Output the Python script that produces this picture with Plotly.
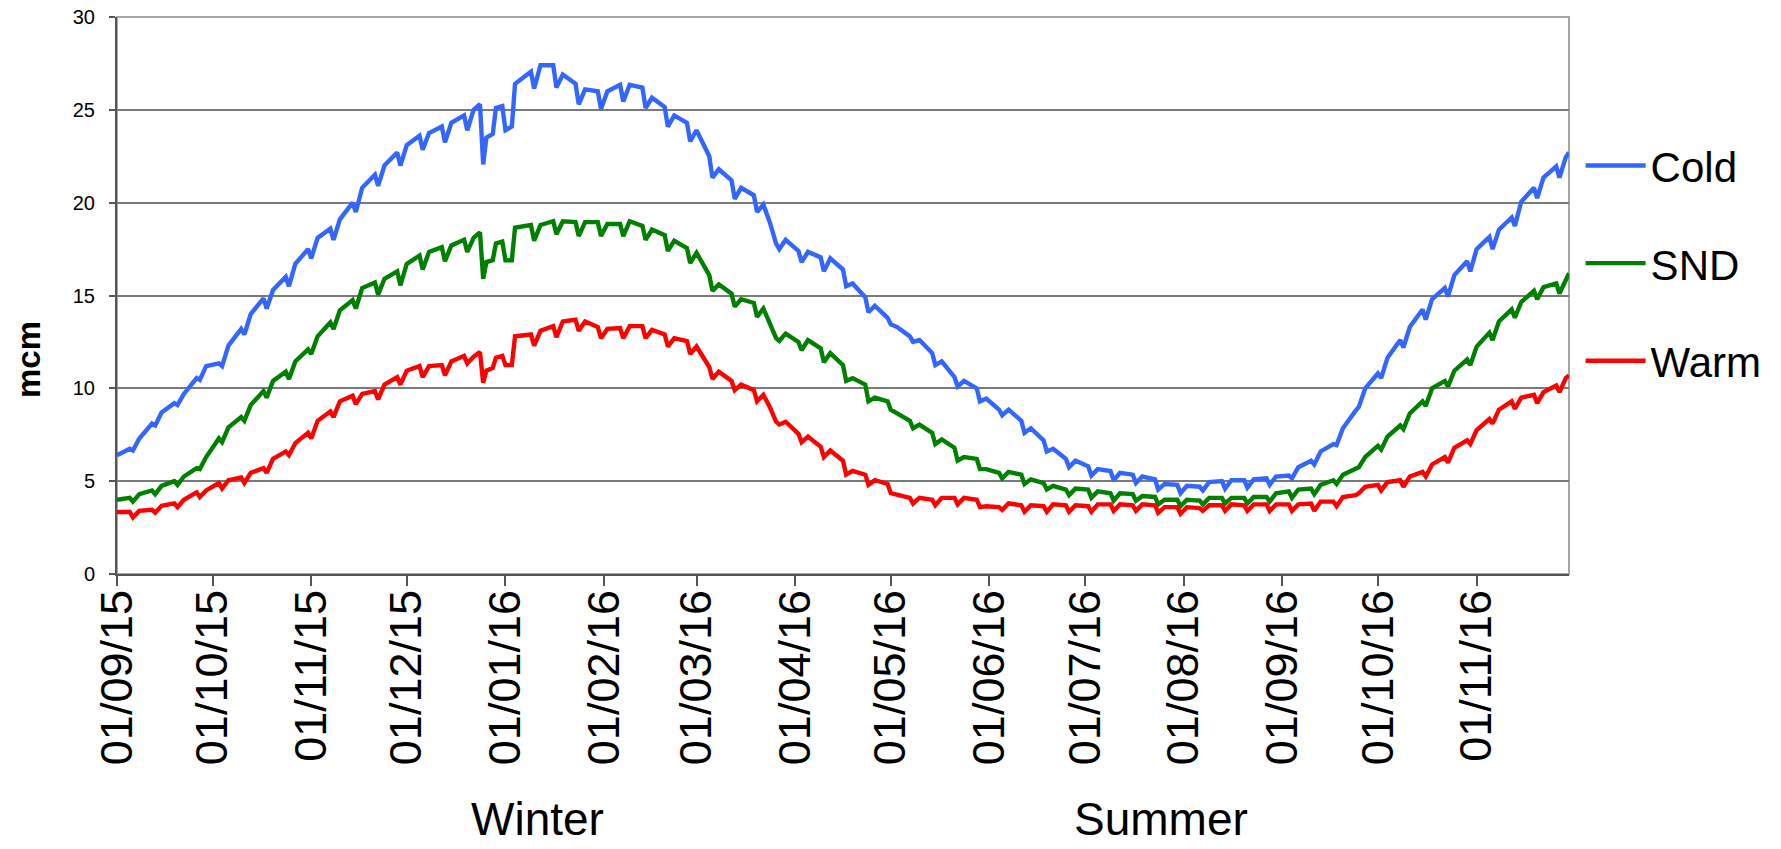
import plotly.graph_objects as go

# ---- data ----
dates = [
    "2015-09-01",
    "2015-09-05", "2015-09-06", "2015-09-08",
    "2015-09-12", "2015-09-13", "2015-09-15",
    "2015-09-19", "2015-09-20", "2015-09-22",
    "2015-09-26", "2015-09-27", "2015-09-29",
    "2015-10-03", "2015-10-04", "2015-10-06",
    "2015-10-10", "2015-10-11", "2015-10-13",
    "2015-10-17", "2015-10-18", "2015-10-20",
    "2015-10-24", "2015-10-25", "2015-10-27",
    "2015-10-31", "2015-11-01", "2015-11-03",
    "2015-11-07", "2015-11-08", "2015-11-10",
    "2015-11-14", "2015-11-15", "2015-11-17",
    "2015-11-21", "2015-11-22", "2015-11-24",
    "2015-11-28", "2015-11-29", "2015-12-01",
    "2015-12-05", "2015-12-06", "2015-12-08",
    "2015-12-12", "2015-12-13", "2015-12-15",
    "2015-12-19", "2015-12-20", "2015-12-22",
    "2015-12-24", "2015-12-25", "2015-12-26", "2015-12-28", "2015-12-29",
    "2015-12-31", "2016-01-01", "2016-01-03", "2016-01-04",
    "2016-01-09", "2016-01-10", "2016-01-12",
    "2016-01-16", "2016-01-17", "2016-01-19",
    "2016-01-23", "2016-01-24", "2016-01-26",
    "2016-01-30", "2016-01-31", "2016-02-02",
    "2016-02-06", "2016-02-07", "2016-02-09",
    "2016-02-13", "2016-02-14", "2016-02-16",
    "2016-02-20", "2016-02-21", "2016-02-23",
    "2016-02-27", "2016-02-28", "2016-03-01",
    "2016-03-05", "2016-03-06", "2016-03-08",
    "2016-03-12", "2016-03-13", "2016-03-15",
    "2016-03-19", "2016-03-20", "2016-03-22",
    "2016-03-24", "2016-03-26", "2016-03-27", "2016-03-29",
    "2016-04-02", "2016-04-03", "2016-04-05",
    "2016-04-09", "2016-04-10", "2016-04-12",
    "2016-04-16", "2016-04-17", "2016-04-19",
    "2016-04-23", "2016-04-24", "2016-04-26",
    "2016-04-30", "2016-05-01", "2016-05-03",
    "2016-05-07", "2016-05-08", "2016-05-10",
    "2016-05-14", "2016-05-15", "2016-05-17",
    "2016-05-21", "2016-05-22", "2016-05-24",
    "2016-05-28", "2016-05-29", "2016-05-31",
    "2016-06-04", "2016-06-05", "2016-06-07",
    "2016-06-11", "2016-06-12", "2016-06-14",
    "2016-06-18", "2016-06-19", "2016-06-21",
    "2016-06-25", "2016-06-26", "2016-06-28",
    "2016-07-02", "2016-07-03", "2016-07-05",
    "2016-07-09", "2016-07-10", "2016-07-12",
    "2016-07-16", "2016-07-17", "2016-07-19",
    "2016-07-23", "2016-07-24", "2016-07-26",
    "2016-07-30", "2016-07-31", "2016-08-02",
    "2016-08-06", "2016-08-07", "2016-08-09",
    "2016-08-13", "2016-08-14", "2016-08-16",
    "2016-08-20", "2016-08-21", "2016-08-23",
    "2016-08-27", "2016-08-28", "2016-08-30",
    "2016-09-03", "2016-09-04", "2016-09-06",
    "2016-09-10", "2016-09-11", "2016-09-13",
    "2016-09-17", "2016-09-18", "2016-09-20",
    "2016-09-24", "2016-09-25", "2016-09-27",
    "2016-10-01", "2016-10-02", "2016-10-04",
    "2016-10-08", "2016-10-09", "2016-10-11",
    "2016-10-15", "2016-10-16", "2016-10-18",
    "2016-10-22", "2016-10-23", "2016-10-25",
    "2016-10-29", "2016-10-30", "2016-11-01",
    "2016-11-05", "2016-11-06", "2016-11-08",
    "2016-11-12", "2016-11-13", "2016-11-15",
    "2016-11-19", "2016-11-20", "2016-11-22",
    "2016-11-26", "2016-11-27", "2016-11-29",
    "2016-11-30",
]

cold = [
    6.4,
    6.75, 6.65, 7.3,
    8.1, 8.0, 8.7,
    9.2, 9.1, 9.7,
    10.55, 10.45, 11.2,
    11.35, 11.2, 12.3,
    13.2, 12.9, 14.0,
    14.85, 14.3, 15.3,
    16.0, 15.5, 16.7,
    17.5, 17.0, 18.1,
    18.6, 18.0, 19.1,
    20.0, 19.5, 20.8,
    21.5, 20.9, 22.0,
    22.7, 22.0, 23.1,
    23.6, 22.85, 23.75,
    24.1, 23.25, 24.3,
    24.7, 23.9, 25.0,
    25.3, 22.06, 23.5, 23.7, 25.1,
    25.2, 23.9, 24.1, 26.4,
    27.05, 26.15, 27.4,
    27.4, 26.2, 26.9,
    26.4, 25.3, 26.1,
    26.0, 25.05, 26.0,
    26.35, 25.45, 26.35,
    26.2, 25.1, 25.65,
    25.15, 24.1, 24.7,
    24.3, 23.3, 23.9,
    22.5, 21.35, 21.8,
    21.2, 20.2, 20.8,
    20.4, 19.5, 19.9,
    18.95, 17.8, 17.5, 18.0,
    17.4, 16.8, 17.35,
    17.05, 16.3, 17.0,
    16.4, 15.5, 15.65,
    14.9, 14.1, 14.45,
    13.8, 13.45, 13.3,
    12.8, 12.5, 12.6,
    11.9, 11.25, 11.45,
    10.6, 10.1, 10.4,
    10.0, 9.3, 9.45,
    8.85, 8.55, 8.85,
    8.25, 7.6, 7.85,
    7.2, 6.6, 6.75,
    6.2, 5.75, 6.1,
    5.8, 5.3, 5.65,
    5.55, 5.05, 5.45,
    5.35, 4.9, 5.25,
    5.1, 4.55, 4.85,
    4.8, 4.35, 4.75,
    4.7, 4.5, 4.95,
    5.0, 4.6, 5.05,
    5.05, 4.65, 5.1,
    5.15, 4.8, 5.25,
    5.3, 5.15, 5.75,
    6.1, 5.9, 6.6,
    7.0, 6.95, 7.85,
    8.8, 9.0, 10.0,
    10.8, 10.55, 11.65,
    12.6, 12.2, 13.3,
    14.25, 13.7, 14.8,
    15.4, 14.95, 16.1,
    16.85, 16.3, 17.5,
    18.15, 17.5, 18.55,
    19.2, 18.75, 20.05,
    20.8, 20.25, 21.35,
    21.95, 21.35, 22.45,
    22.7,
]

snd = [
    4.0,
    4.1, 3.9, 4.3,
    4.5, 4.3, 4.75,
    5.0, 4.8, 5.25,
    5.7, 5.65, 6.3,
    7.3, 7.1, 7.9,
    8.45, 8.25, 9.1,
    9.85, 9.5, 10.4,
    10.9, 10.5, 11.45,
    12.1, 11.85, 12.8,
    13.55, 13.2, 14.2,
    14.75, 14.3, 15.4,
    15.7, 15.05, 15.9,
    16.3, 15.55, 16.7,
    17.15, 16.4, 17.35,
    17.6, 16.85, 17.7,
    18.0, 17.35, 18.1,
    18.4, 15.9, 16.8, 16.9, 17.8,
    17.9, 16.9, 16.9, 18.65,
    18.8, 17.95, 18.8,
    19.0, 18.3, 19.0,
    18.95, 18.2, 18.95,
    18.95, 18.2, 18.85,
    18.85, 18.2, 19.0,
    18.75, 18.0, 18.55,
    18.25, 17.4, 17.95,
    17.55, 16.75, 17.3,
    16.1, 15.25, 15.6,
    15.1, 14.4, 14.8,
    14.6, 13.85, 14.3,
    13.5, 12.7, 12.55, 12.95,
    12.5, 12.05, 12.6,
    12.15, 11.4, 11.9,
    11.25, 10.4, 10.55,
    10.2, 9.3, 9.5,
    9.3, 8.85, 8.65,
    8.25, 7.85, 8.05,
    7.6, 7.0, 7.25,
    6.8, 6.1, 6.3,
    6.2, 5.65, 5.65,
    5.45, 5.15, 5.5,
    5.35, 4.85, 5.1,
    4.9, 4.55, 4.75,
    4.55, 4.25, 4.6,
    4.55, 4.1, 4.45,
    4.35, 3.95, 4.35,
    4.3, 3.95, 4.2,
    4.15, 3.75, 4.0,
    4.0, 3.65, 4.0,
    3.95, 3.75, 4.1,
    4.1, 3.8, 4.1,
    4.1, 3.8, 4.15,
    4.15, 3.9, 4.35,
    4.45, 4.1, 4.55,
    4.6, 4.3, 4.8,
    5.05, 4.85, 5.35,
    5.65, 5.75, 6.3,
    6.9, 6.7, 7.4,
    8.0, 7.8, 8.65,
    9.3, 9.05, 10.0,
    10.4, 10.1, 10.95,
    11.55, 11.25, 12.25,
    13.0, 12.6, 13.6,
    14.25, 13.8, 14.65,
    15.25, 14.8, 15.45,
    15.65, 15.1, 15.9,
    16.2,
]

warm = [
    3.34,
    3.34, 3.05, 3.4,
    3.46, 3.3, 3.67,
    3.8, 3.6, 4.0,
    4.4, 4.15, 4.5,
    4.9, 4.6, 5.05,
    5.2, 4.9, 5.45,
    5.7, 5.45, 6.2,
    6.6, 6.4, 7.05,
    7.6, 7.3, 8.25,
    8.75, 8.45, 9.3,
    9.6, 9.15, 9.7,
    9.85, 9.4, 10.2,
    10.6, 10.2, 10.95,
    11.2, 10.6, 11.2,
    11.25, 10.7, 11.45,
    11.75, 11.35, 11.7,
    11.95, 10.3, 10.95, 11.1, 11.65,
    11.75, 11.25, 11.25, 12.8,
    12.9, 12.3, 13.1,
    13.35, 12.75, 13.6,
    13.7, 13.1, 13.6,
    13.3, 12.7, 13.2,
    13.25, 12.7, 13.35,
    13.35, 12.7, 13.15,
    12.9, 12.25, 12.7,
    12.55, 11.85, 12.25,
    11.15, 10.5, 10.9,
    10.4, 9.9, 10.2,
    9.9, 9.3, 9.65,
    9.0, 8.2, 8.05, 8.2,
    7.55, 7.1, 7.4,
    6.85, 6.3, 6.65,
    6.1, 5.35, 5.55,
    5.35, 4.8, 5.05,
    4.85, 4.35, 4.25,
    4.1, 3.8, 4.1,
    4.0, 3.7, 4.1,
    4.1, 3.75, 4.1,
    4.0, 3.6, 3.65,
    3.6, 3.45, 3.8,
    3.7, 3.35, 3.7,
    3.65, 3.35, 3.75,
    3.7, 3.35, 3.7,
    3.65, 3.35, 3.75,
    3.75, 3.4, 3.75,
    3.7, 3.4, 3.75,
    3.7, 3.3, 3.6,
    3.6, 3.25, 3.6,
    3.55, 3.4, 3.7,
    3.7, 3.4, 3.75,
    3.7, 3.4, 3.75,
    3.75, 3.4, 3.75,
    3.75, 3.4, 3.75,
    3.8, 3.4, 3.9,
    3.9, 3.65, 4.15,
    4.25, 4.35, 4.7,
    4.8, 4.5, 4.95,
    5.05, 4.7, 5.25,
    5.5, 5.25, 5.9,
    6.3, 6.0, 6.8,
    7.2, 7.0, 7.75,
    8.35, 8.1, 8.85,
    9.3, 8.9, 9.5,
    9.65, 9.2, 9.8,
    10.15, 9.8, 10.55,
    10.7,
]

series_names = ["Cold", "SND", "Warm"]
series_colors = ["#3366ff", "#008000", "#ff0000"]

month_ticks = [
    "2015-09-01", "2015-10-01", "2015-11-01", "2015-12-01", "2016-01-01",
    "2016-02-01", "2016-03-01", "2016-04-01", "2016-05-01", "2016-06-01",
    "2016-07-01", "2016-08-01", "2016-09-01", "2016-10-01", "2016-11-01",
]
y_ticks = [0, 5, 10, 15, 20, 25, 30]
season_labels = [("Winter", "2016-01-11"), ("Summer", "2016-07-25")]
y_title = "mcm"

FONT = "Arial, 'Liberation Sans', sans-serif"

fig = go.Figure()
for name, vals, col in zip(series_names, [cold, snd, warm], series_colors):
    fig.add_trace(go.Scatter(
        x=dates, y=vals, mode="lines", name=name, legendgroup=name,
        line=dict(color=col, width=4.4),
    ))

fig.update_layout(
    width=1781, height=849,
    margin=dict(l=117, r=212, t=17, b=275, autoexpand=False),
    paper_bgcolor="white", plot_bgcolor="white",
    font=dict(family=FONT, color="black"),
    showlegend=True,
    legend=dict(
        x=1.008, y=0.794, xanchor="left", yanchor="top",
        font=dict(size=42, family=FONT, color="black"),
        tracegroupgap=40, itemwidth=60,
        bgcolor="rgba(0,0,0,0)",
    ),
)

fig.update_xaxes(
    type="date",
    range=["2015-09-01", "2016-11-30"],
    tickvals=month_ticks,
    tickformat="%d/%m/%y",
    tickangle=-90,
    tickfont=dict(size=45, family=FONT, color="black"),
    ticks="outside", ticklen=10, tickwidth=1.5, tickcolor="#555555",
    ticklabelstandoff=-14,
    showgrid=False, zeroline=False,
    showline=True, linecolor="#555555", linewidth=2,
)
fig.update_yaxes(
    range=[0, 30],
    tickvals=y_ticks,
    tickfont=dict(size=20, family=FONT, color="black"),
    ticks="outside", ticklen=6, tickwidth=1.5, tickcolor="#555555",
    ticklabelstandoff=10,
    ticklabeloverflow="allow",
    showgrid=True, gridcolor="#7a7a7a", gridwidth=1.6,
    zeroline=False,
    showline=True, linecolor="#555555", linewidth=2,
)

# light frame on top / right of plot area
fig.add_shape(type="rect", xref="paper", yref="paper", x0=0, x1=1, y0=0, y1=1,
              line=dict(color="#a6a6a6", width=2), layer="below")

fig.add_annotation(text="<b>" + y_title + "</b>", xref="paper", yref="paper",
                   x=-0.061, y=0.385, xanchor="center", yanchor="middle",
                   textangle=-90, showarrow=False,
                   font=dict(size=33, family=FONT, color="black"))
for label, xd in season_labels:
    fig.add_annotation(text=label, xref="x", yref="paper", x=xd, y=-0.44,
                       showarrow=False, xanchor="center", yanchor="middle",
                       font=dict(size=46, family=FONT, color="black"))

# remove the browser's default 8px body margin so the figure sits at (0, 0)
fig.write_html("out.html",
               config={"displayModeBar": False},
               post_script="document.body.style.margin='0';")
